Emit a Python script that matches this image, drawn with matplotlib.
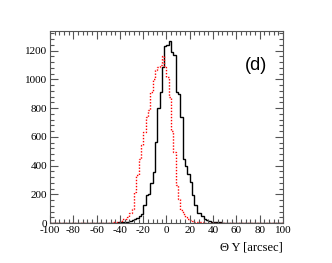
import numpy as np
import matplotlib
matplotlib.use("Agg")
import matplotlib.pyplot as plt
from matplotlib.ticker import MultipleLocator


# Histogram binning: 2 arcsec bins, counts given for [-60, 60], zero elsewhere
BIN_WIDTH = 2
X_RANGE = (-100, 100)
COUNT_RANGE = (-60, 60)

# Black solid histogram, one row = 10 bins (row starts: -60, -40, -20, 0, 20, 40)
black_counts = [
    0, 0, 0, 0, 0, 1, 2, 2, 3, 4,
    5, 6, 8, 10, 15, 20, 25, 35, 50, 66,
    124, 194, 200, 277, 356, 563, 800, 914, 1088, 1230,
    1240, 1268, 1192, 1170, 914, 900, 740, 449, 400, 338,
    282, 194, 124, 73, 73, 50, 28, 20, 15, 10,
    8, 6, 5, 4, 3, 2, 1, 1, 0, 0,
]

# Red dotted histogram, same binning
red_counts = [
    0, 0, 1, 1, 1, 2, 3, 4, 6, 10,
    15, 25, 31, 40, 70, 101, 217, 333, 449, 542,
    635, 740, 786, 914, 1000, 1065, 1088, 1100, 1165, 1088,
    1018, 880, 640, 495, 263, 170, 89, 60, 43, 30,
    20, 12, 8, 6, 5, 4, 3, 2, 2, 1,
    1, 1, 0, 0, 0, 0, 0, 0, 0, 0,
]

x_ticks = [-100, -80, -60, -40, -20, 0, 20, 40, 60, 80, 100]
y_ticks = [0, 200, 400, 600, 800, 1000, 1200]
x_label = "\u0398 Y [arcsec]"
panel_label = "(d)"


def full_counts(counts):
    n_left = (COUNT_RANGE[0] - X_RANGE[0]) // BIN_WIDTH
    n_right = (X_RANGE[1] - COUNT_RANGE[1]) // BIN_WIDTH
    return np.concatenate([np.zeros(n_left), counts, np.zeros(n_right)])


def main():
    edges = np.arange(X_RANGE[0], X_RANGE[1] + BIN_WIDTH, BIN_WIDTH)
    black = full_counts(black_counts)
    red = full_counts(red_counts)

    fig = plt.figure(figsize=(3.32, 2.63), dpi=100)
    ax = fig.add_axes([0.1506, 0.152, 0.7018, 0.730])

    ax.stairs(black, edges, color="black", linewidth=1.0, baseline=None)
    ax.stairs(red, edges, color="red", linewidth=1.0, linestyle=(0, (1, 1.2)),
              baseline=None)

    ax.set_xlim(*X_RANGE)
    ax.set_ylim(0, 1336)

    ax.xaxis.set_minor_locator(MultipleLocator(4))
    ax.yaxis.set_minor_locator(MultipleLocator(40))
    ax.set_xticks(x_ticks)
    ax.set_yticks(y_ticks)
    ax.set_xticklabels([str(t) for t in x_ticks])
    ax.set_yticklabels([str(t) for t in y_ticks])

    serif = ["Liberation Serif", "DejaVu Serif"]
    for lab in ax.get_xticklabels() + ax.get_yticklabels():
        lab.set_family(serif)
        lab.set_fontsize(8)

    ax.tick_params(which="both", direction="in", top=True, right=True,
                   color="#555555", width=0.8)
    ax.tick_params(which="major", length=6, pad=2)
    ax.tick_params(which="minor", length=3)
    for sp in ax.spines.values():
        sp.set_color("#555555")
        sp.set_linewidth(0.8)

    ax.set_xlabel(x_label, family=serif, fontsize=9, loc="right", labelpad=5)
    ax.text(0.93, 0.82, panel_label, transform=ax.transAxes, ha="right",
            va="center", family=["Liberation Sans", "DejaVu Sans"], fontsize=13)

    fig.savefig("out.png", dpi=100)


if __name__ == "__main__":
    main()
